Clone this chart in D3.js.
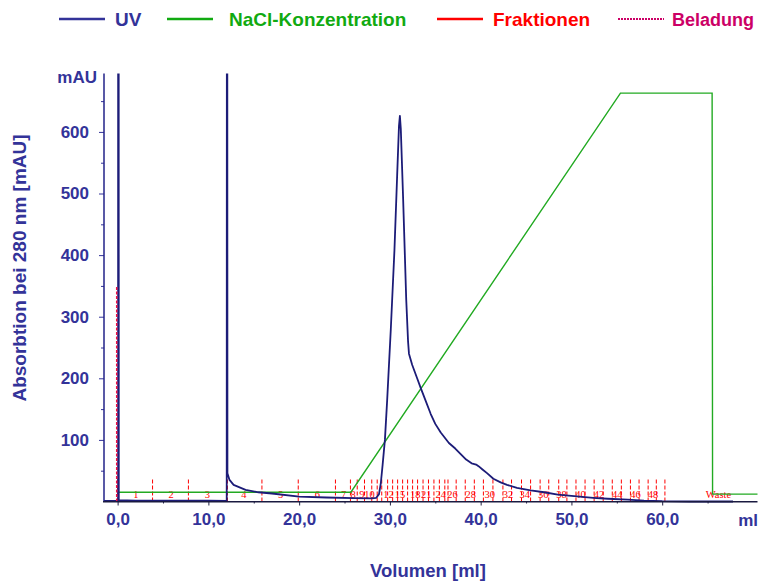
<!DOCTYPE html>
<html><head><meta charset="utf-8">
<script src="https://cdn.jsdelivr.net/npm/d3@7"></script>
<style>
body{margin:0;background:#fff}
svg{display:block}
text{font-family:"Liberation Sans",Arial,Helvetica,sans-serif}
</style>
</head><body>
<svg id="c" width="760" height="581"></svg>
<script>
// ---------- data ----------
const uvVolume = [-1.5, -0.05, 0.05, 0.07, 0.1, 0.13, 2, 6, 10, 12.02, 12.06, 12.1, 12.33, 12.78, 14.1, 15.5, 17, 20, 23, 26, 28.0, 28.5, 28.8, 29.0, 29.2, 29.45, 29.7, 30.1, 30.5, 30.8, 31.0, 31.1, 31.2, 31.46, 31.8, 32.0, 32.1, 32.45, 33.0, 33.4, 33.9, 34.5, 35.0, 35.6, 36.5, 37.2, 37.8, 38.4, 39.0, 39.5, 39.8, 40.2, 40.7, 41.4, 42.2, 42.9, 44.0, 45.5, 47.0, 48.5, 50.0, 52.4, 54.0, 56.2, 58.0, 60.0, 63.0, 67.8];
const uvAbs    = [1, 1, 1, 2000, 2000, 2, 1.5, 1.5, 1.5, 1, 2000, 46, 35, 27, 19, 15, 13, 8, 6.5, 5.5, 5, 6, 12, 30, 60, 100, 165, 280, 408, 530, 610, 626, 605, 490, 327, 260, 240, 222, 200, 184, 165, 142, 126, 112, 95, 86, 77, 68, 62, 60, 57, 52, 46, 37, 31, 27, 22, 18, 15, 11, 9, 6, 4.5, 3, 1.5, 0.5, 0, 0];

const naclVolume = [0.05, 25.7, 55.4, 65.5, 65.55, 70.5];
const naclLevel  = [15, 15, 663, 663, 12, 12];

const fractionEdges = [0, 3.85, 7.8, 12.1, 15.9, 19.9, 24.0, 25.65, 26.4, 27.2, 28.0, 28.6, 29.1, 29.75, 30.3, 30.85, 31.4, 31.95, 32.5, 33.05, 33.65, 34.25, 34.85, 35.45, 36.05, 36.4, 37.3, 38.3, 39.3, 40.3, 41.35, 42.45, 43.4, 44.5, 45.5, 46.55, 47.5, 48.6, 49.5, 50.5, 51.5, 52.5, 53.5, 54.5, 55.5, 56.5, 57.45, 58.45, 59.35, 60.3];
const fractionLabels   = ["1", "2", "3", "4", "5", "6", "7", "8", "9", "10", "12", "15", "18", "21", "24", "26", "28", "30", "32", "34", "36", "38", "40", "42", "44", "46", "48", "Waste"];
const fractionLabelPos = [2.0, 5.9, 9.9, 13.9, 17.95, 22.0, 24.9, 25.95, 26.9, 27.75, 29.85, 31.1, 32.8, 34.0, 35.6, 36.9, 38.9, 41.0, 43.0, 44.85, 46.9, 48.9, 51.0, 53.05, 55.05, 57.05, 59.0, 66.2];

const beladungVolume = [-0.1, -0.1];
const beladungLevel  = [0, 350];

const xTicks = [0, 10, 20, 30, 40, 50, 60];
const xMinorTicks = [5, 15, 25, 35, 45, 55, 65];
const yTicks = [100, 200, 300, 400, 500, 600];
const yMinorTicks = [50, 150, 250, 350, 450, 550, 650];

const legendNames  = ["UV", "NaCl-Konzentration", "Fraktionen", "Beladung"];
const legendColors = ["#333399", "#11aa11", "#ff0000", "#cc0066"];

// ---------- drawing ----------
const svg = d3.select("#c");
const navy = "#333399";
const x = d3.scaleLinear().domain([-1.5, 70.5]).range([104, 757.5]);
const y = d3.scaleLinear().domain([0, 695]).range([501.5, 73.4]);

svg.append("defs").append("clipPath").attr("id", "clip")
  .append("rect").attr("x", 104).attr("y", 73.4).attr("width", 654).attr("height", 430);

const plot = svg.append("g").attr("clip-path", "url(#clip)");
const line = d3.line().x(d => x(d[0])).y(d => y(d[1]));

// fraction markers
const fr = plot.append("g");
fr.selectAll("line").data(fractionEdges).join("line")
  .attr("x1", d => x(d)).attr("x2", d => x(d))
  .attr("y1", y(0)).attr("y2", y(36))
  .attr("stroke", "#ff0000").attr("stroke-width", 1).attr("stroke-dasharray", "4,2");
fr.selectAll("text").data(fractionLabels).join("text")
  .attr("x", (d, i) => x(fractionLabelPos[i])).attr("y", 498)
  .attr("text-anchor", "middle")
  .style("font-family", "'Liberation Serif','Times New Roman',serif")
  .attr("font-size", 10.5).attr("fill", "#ff0000").text(d => d);

// NaCl
plot.append("path").datum(naclVolume.map((v, i) => [v, naclLevel[i]]))
  .attr("d", line).attr("fill", "none").attr("stroke", "#22aa22").attr("stroke-width", 1.4);

// UV
plot.append("path").datum(uvVolume.map((v, i) => [v, uvAbs[i]]))
  .attr("d", line).attr("fill", "none").attr("stroke", "#1c1c78")
  .attr("stroke-width", 1.8).attr("stroke-linejoin", "round");

// Beladung
plot.append("path").datum(beladungVolume.map((v, i) => [v, beladungLevel[i]]))
  .attr("d", line).attr("fill", "none").attr("stroke", "#ee1144")
  .attr("stroke-width", 1.5).attr("stroke-dasharray", "3,1.5");

// axes
const yAxis = svg.append("g").attr("transform", "translate(104,0)")
  .call(d3.axisLeft(y).tickValues(yTicks).tickSize(5).tickPadding(10).tickFormat(d3.format("d")));
yAxis.select(".domain").remove();
yAxis.selectAll("line").attr("stroke", navy);
yAxis.selectAll("text").attr("font-size", 17).attr("font-weight", "bold").attr("fill", navy)
  .style("font-family", "'Liberation Sans',Arial,sans-serif");
const yMinor = svg.append("g").attr("transform", "translate(104,0)")
  .call(d3.axisLeft(y).tickValues(yMinorTicks).tickSize(3).tickFormat(""));
yMinor.select(".domain").remove();
yMinor.selectAll("line").attr("stroke", navy);

svg.append("line").attr("x1", 104).attr("x2", 104).attr("y1", 73.4).attr("y2", 502)
  .attr("stroke", "#222288").attr("stroke-width", 1.5);

const xAxis = svg.append("g").attr("transform", "translate(0,501.5)")
  .call(d3.axisBottom(x).tickValues(xTicks).tickSize(4).tickPadding(7)
    .tickFormat(d => d.toFixed(1).replace(".", ",")));
xAxis.select(".domain").remove();
xAxis.selectAll("line").attr("stroke", "#222244");
xAxis.selectAll("text").attr("font-size", 17).attr("font-weight", "bold").attr("fill", navy)
  .style("font-family", "'Liberation Sans',Arial,sans-serif");
const xMinor = svg.append("g").attr("transform", "translate(0,501.5)")
  .call(d3.axisBottom(x).tickValues(xMinorTicks).tickSize(2).tickFormat(""));
xMinor.select(".domain").remove();
xMinor.selectAll("line").attr("stroke", "#222244");

svg.append("line").attr("x1", 103).attr("x2", 757.5).attr("y1", 501.8).attr("y2", 501.8)
  .attr("stroke", "#1a1a40").attr("stroke-width", 1.6);

// axis unit labels
svg.append("text").attr("x", 97).attr("y", 83).attr("text-anchor", "end")
  .attr("font-size", 17).attr("font-weight", "bold").attr("fill", navy).text("mAU");
svg.append("text").attr("x", 758).attr("y", 526).attr("text-anchor", "end")
  .attr("font-size", 17).attr("font-weight", "bold").attr("fill", navy).text("ml");

// titles
svg.append("text").attr("x", 428).attr("y", 577).attr("text-anchor", "middle")
  .attr("font-size", 18.5).attr("font-weight", "bold").attr("fill", navy).text("Volumen [ml]");
svg.append("text").attr("transform", "translate(26,268) rotate(-90)").attr("text-anchor", "middle")
  .attr("font-size", 19).attr("font-weight", "bold").attr("fill", navy).text("Absorbtion bei 280 nm [mAU]");

// legend
const legX = [59, 167, 437, 618];
const legTextX = [115, 229, 493, 672];
const leg = svg.append("g");
legendNames.forEach((name, i) => {
  leg.append("line").attr("x1", legX[i]).attr("x2", legX[i] + 46).attr("y1", 19).attr("y2", 19)
    .attr("stroke", legendColors[i])
    .attr("stroke-width", i === 3 ? 2 : 2.5)
    .attr("stroke-dasharray", i === 3 ? "2,1" : null);
  leg.append("text").attr("x", legTextX[i]).attr("y", 26)
    .attr("font-size", i === 3 ? 18 : 19).attr("font-weight", "bold").attr("fill", legendColors[i]).text(name);
});
</script>
</body></html>
